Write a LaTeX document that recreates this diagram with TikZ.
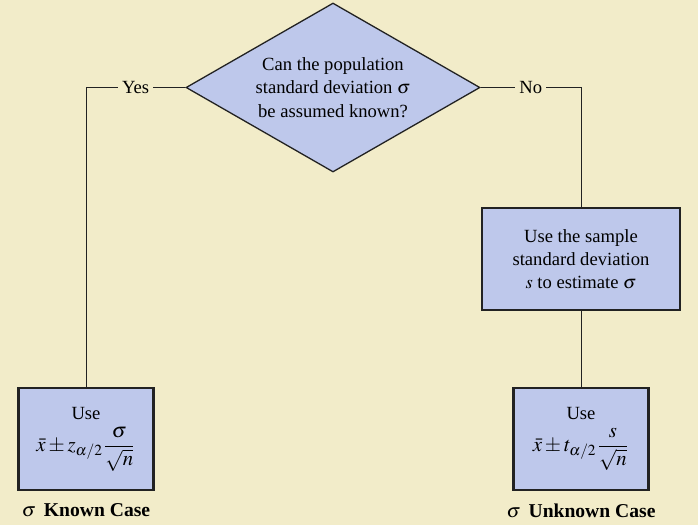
\documentclass[tikz,border=0pt]{standalone}
\usepackage{mathptmx}
\usepackage{fontspec}
\setmainfont{Liberation Serif}
\usetikzlibrary{shapes.geometric}
\definecolor{paper}{HTML}{F2ECC9}
\definecolor{boxfill}{HTML}{BEC8EB}
\definecolor{ink}{HTML}{222222}
\newcommand{\bigmath}{\fontsize{10.4}{12}\selectfont}
\begin{document}
\begin{tikzpicture}[x=0.5pt, y=-0.5pt, font=\rmfamily\fontsize{9.3}{11.6}\selectfont,
	question/.style={diamond, draw=ink, fill=boxfill, line width=0.65pt, inner sep=0pt, aspect=1.74, minimum width=147pt, minimum height=84.5pt, align=center},
	stepbox/.style={rectangle, draw=ink, fill=boxfill, line width=1.2pt, align=center, inner sep=0pt},
	link/.style={draw=ink, line width=0.5pt},
	answer/.style={fill=paper, inner sep=2pt},
	caselabel/.style={inner sep=0pt, font=\rmfamily\fontsize{9.8}{11.6}\selectfont\bfseries}]
	% nền của hình
	\fill[paper] (0,0) rectangle (698,525);
	\useasboundingbox (0,0) rectangle (698,525);
	% Câu hỏi chính (hình thoi)
	\node[question] (ask) at (333,87.5) {Can the population\\ standard deviation $\sigma$\\ be assumed known?};
	% Ô ước lượng sigma bằng s
	\node[stepbox, minimum width=99pt, minimum height=51pt] (est) at (581,259) {Use the sample\\ standard deviation\\ $s$ to estimate $\sigma$};
	% Hai ô công thức phía dưới
	\node[stepbox, minimum width=67.5pt, minimum height=51pt] (known) at (86,439) {Use\\[3pt] {\bigmath$\displaystyle\bar{x}\pm z_{\alpha/2}\frac{\sigma}{\sqrt{n}}$}};
	\node[stepbox, minimum width=67.5pt, minimum height=51pt] (unknown) at (581,439) {Use\\[3pt] {\bigmath$\displaystyle\bar{x}\pm t_{\alpha/2}\frac{s}{\sqrt{n}}$}};
	% Nhãn dưới các ô
	\node[caselabel, anchor=north] (knownlbl) at ([yshift=-6pt]known.south) {$\sigma$\, Known Case};
	\node[caselabel, anchor=north] (unknownlbl) at ([yshift=-6pt]unknown.south) {$\sigma$\, Unknown Case};
	% Các đường nối
	\draw[link] (ask.west) -| node[answer, pos=0.25] {Yes} (known.north);
	\draw[link] (ask.east) -| node[answer, pos=0.25] {No} (est.north);
	\draw[link] (est.south) -- (unknown.north);
\end{tikzpicture}
\end{document}
